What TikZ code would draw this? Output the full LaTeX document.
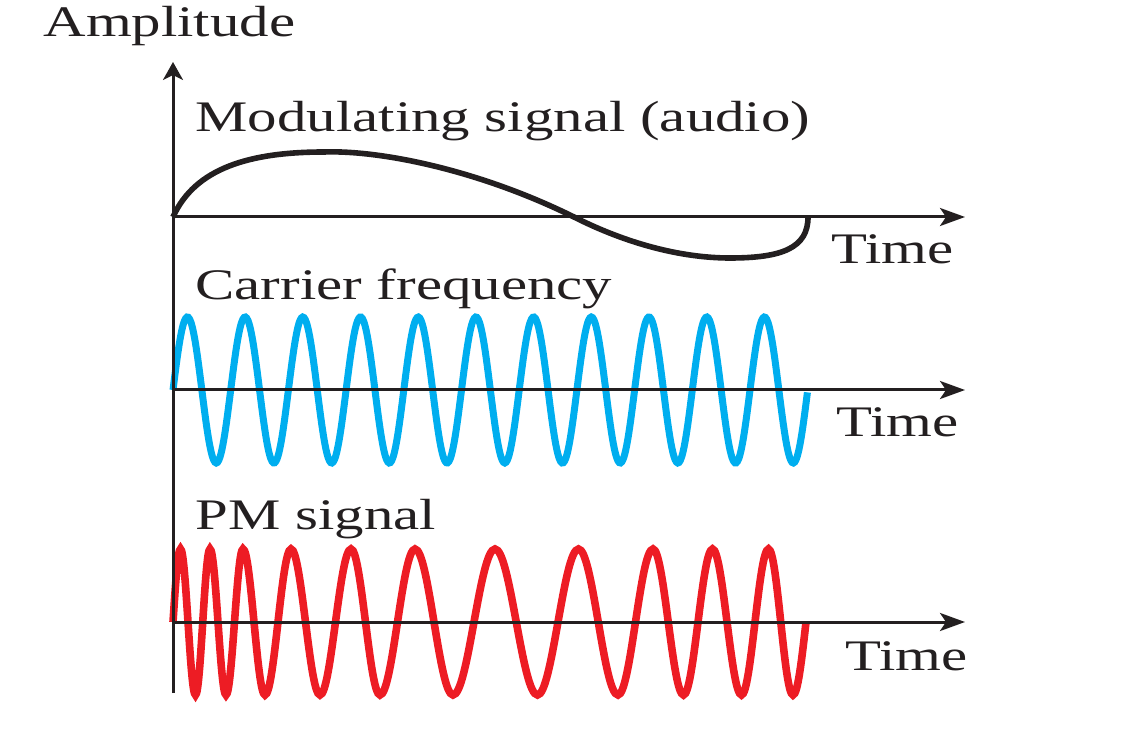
\documentclass[tikz,border=0pt]{standalone}
\usepackage{fontspec}
\setmainfont{Liberation Serif}
\usetikzlibrary{arrows.meta}
\definecolor{carrierblue}{RGB}{0,174,239}
\definecolor{pmred}{RGB}{237,28,36}
\definecolor{ink}{RGB}{35,31,32}
\begin{document}
\begin{tikzpicture}[x=0.5pt,y=-0.5pt,
  lbl/.style={font=\fontsize{21.8}{24}\selectfont, inner sep=0pt, xscale=1.35, anchor=base west, text=ink},
  axisline/.style={draw=ink, line width=1.5pt},
  harrow/.style={axisline, -{Stealth[length=12.5pt,width=9pt,inset=3pt]}},
  varrow/.style={axisline, -{Stealth[length=9pt,width=10pt,inset=2.5pt]}},
  modsig/.style={draw=ink, line width=2.8pt},
  carsig/.style={draw=carrierblue, line width=3.5pt},
  pmsig/.style={draw=pmred, line width=3.8pt}]
\useasboundingbox (0,0) rectangle (1122,747);
% axes coordinates
\coordinate (vbot) at (173,693);
\coordinate (vtop) at (173,62);
\coordinate (o1) at (173,217);
\coordinate (e1) at (965,217);
\coordinate (o2) at (173,390);
\coordinate (e2) at (965,390);
\coordinate (o3) at (173,622);
\coordinate (e3) at (965,622);
% labels
\node[lbl] (amp) at (43,37) {Amplitude};
\node[lbl] (modlbl) at (195,132) {Modulating signal (audio)};
\node[lbl] (carlbl) at (195,300) {Carrier frequency};
\node[lbl] (pmlbl) at (195,530) {PM signal};
\node[lbl] (t1) at (831,264) {Time};
\node[lbl] (t2) at (836,437) {Time};
\node[lbl] (t3) at (845,670) {Time};
% modulating signal
\draw[modsig] (o1) .. controls (195,168) and (250,152) .. (324,152)
  .. controls (380,150) and (480,170) .. (576,218)
  .. controls (626,243) and (680,258) .. (730,258)
  .. controls (782,258) and (808,248) .. (808,217);
% carrier
\draw[carsig, domain=0:11, samples=500, smooth] plot ({173+57.7*\x}, {390-73*sin(360*\x)});
% PM signal
\draw[pmsig] (o3) sin (180.5,549) cos (188,622) sin (195.5,695) cos (202.75,622)
  sin (210,549) cos (218,622) sin (226,695) cos (234.5,622)
  sin (243,549) cos (254,622) sin (265,695) cos (278,622)
  sin (291,549) cos (305.5,622) sin (320,695) cos (335.5,622)
  sin (351,549) cos (365.5,622) sin (380,695) cos (397.5,622)
  sin (415,549) cos (434,622) sin (453,695) cos (474,622)
  sin (495,549) cos (516.25,622) sin (537.5,695) cos (558,622)
  sin (578.5,549) cos (598.25,622) sin (618,695) cos (635.5,622)
  sin (653,549) cos (668.25,622) sin (683.5,695) cos (698,622)
  sin (712.5,549) cos (727,622) sin (741.5,695) cos (755,622)
  sin (768.5,549) cos (780.75,622) sin (793,695) cos (806,622);
% axes
\draw[varrow] (vbot) -- (vtop);
\draw[harrow] (o1) -- (e1);
\draw[harrow] (o2) -- (e2);
\draw[harrow] (o3) -- (e3);
\end{tikzpicture}
\end{document}
